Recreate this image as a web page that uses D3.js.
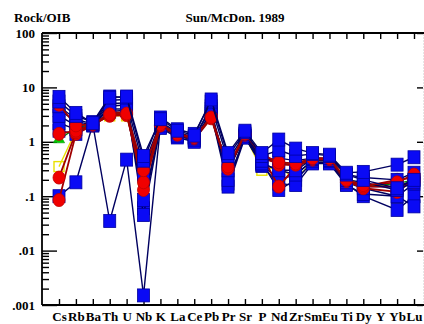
<!DOCTYPE html>
<html>
<head>
<meta charset="utf-8">
<script src="https://cdn.jsdelivr.net/npm/d3@7"></script>
<style>
  body { margin: 0; background: #fff; }
  svg { display: block; }
  text { font-family: "Liberation Serif", "Times New Roman", serif; font-weight: bold; }
</style>
</head>
<body>
<div id="chart"></div>
<script>
// elements along the x axis (Y has no analyses, lines run across it)
var elements = ["Cs","Rb","Ba","Th","U","Nb","K","La","Ce","Pb","Pr","Sr","P","Nd","Zr","Sm","Eu","Ti","Dy","Y","Yb","Lu"];

var yTickValues = [100, 10, 1, 0.1, 0.01, 0.001];
var yTickLabels = ["100", "10", "1", ".1", ".01", ".001"];

// rock / OIB ratios
var yellow1 = [0.35, 1.6, 2.1, 3.0, 3.0, 0.2, 2.0, 1.4, 1.2, 3.0, 0.3, 1.3, 0.3, 0.35, 0.2, 0.45, 0.45, 0.22, 0.16, null, 0.15, 0.17];
var green1  = [1.1, 1.8, 2.1, 3.3, 3.4, 0.2, 2.0, 1.4, 1.2, 2.9, 0.34, 1.35, 0.55, 0.4, 0.38, 0.48, 0.48, 0.2, 0.15, null, 0.17, 0.2];

var blue1 = [6.7, 3.4, 2.2, 6.5, 6.8, 0.55, 2.6, 1.6, 1.3, 6.0, 0.62, 1.6, 0.62, 1.1, 0.75, 0.62, 0.58, 0.27, 0.28, null, 0.38, 0.52];
var blue2 = [4.5, 2.6, 2.1, 5.0, 5.2, 0.35, 2.3, 1.5, 1.2, 4.5, 0.45, 1.4, 0.45, 0.5, 0.45, 0.5, 0.5, 0.25, 0.22, null, 0.2, 0.27];
var blue3 = [3.0, 2.0, 2.1, 4.0, 4.0, 0.25, 2.0, 1.3, 1.1, 3.5, 0.3, 1.3, 0.4, 0.3, 0.3, 0.48, 0.46, 0.2, 0.18, null, 0.13, 0.18];
var blue4 = [2.2, 1.7, 2.0, 3.6, 3.8, 0.085, 1.8, 1.2, 1.0, 3.2, 0.2, 1.2, 0.38, 0.2, 0.25, 0.45, 0.45, 0.18, 0.14, null, 0.1, 0.065];
var blue5 = [1.6, 1.4, 2.1, 5.8, 6.0, 0.06, 2.2, 1.4, 1.2, 4.0, 0.17, 1.3, 0.42, 0.13, 0.2, 0.42, 0.42, 0.17, 0.1, null, 0.056, 0.1];
var blue6 = [0.1, 0.18, 2.1, 0.035, 0.47, 0.0015, 2.0, 1.4, 1.2, 3.0, 0.3, 1.3, 0.4, 0.3, 0.25, 0.45, 0.45, 0.2, 0.15, null, 0.15, 0.2];
var blue7 = [5.5, 3.0, 2.3, 6.8, 6.5, 0.45, 2.8, 1.7, 1.4, 5.5, 0.55, 1.5, 0.55, 0.7, 0.55, 0.6, 0.55, 0.25, 0.2, null, 0.14, 0.2];
var blue8 = [3.8, 2.4, 2.0, 4.5, 4.8, 0.045, 1.9, 1.3, 1.05, 3.3, 0.15, 1.2, 0.36, 0.17, 0.16, 0.4, 0.4, 0.16, 0.11, null, 0.1, 0.17];

var red1 = [4.8, 2.0, 2.1, 3.2, 3.3, 0.3, 2.1, 1.4, 1.2, 2.8, 0.35, 1.4, 0.58, 0.42, 0.4, 0.5, 0.5, 0.2, 0.16, null, 0.18, 0.25];
var red2 = [1.4, 1.6, 2.1, 3.0, 3.1, 0.18, 2.0, 1.35, 1.15, 2.9, 0.32, 1.35, 0.55, 0.38, 0.38, 0.48, 0.48, 0.2, 0.15, null, 0.2, 0.22];
var red3 = [0.22, 1.5, 2.05, 3.4, 3.5, 0.13, 2.0, 1.4, 1.2, 3.0, 0.33, 1.35, 0.56, 0.15, 0.35, 0.47, 0.47, 0.19, 0.14, null, 0.12, 0.2];
var red4 = [0.085, 1.4, 2.0, 3.1, 3.2, 0.22, 1.9, 1.3, 1.1, 2.7, 0.3, 1.3, 0.5, 0.4, 0.36, 0.46, 0.46, 0.18, 0.15, null, 0.15, 0.18];

// drawing order (later ones lie on top)
var series = [
  {values: yellow1, kind: "yellow"},
  {values: green1, kind: "green"},
  {values: blue5, kind: "blue"},
  {values: blue6, kind: "blue"},
  {values: blue8, kind: "blue"},
  {values: red4, kind: "red"},
  {values: blue4, kind: "blue"},
  {values: red3, kind: "red"},
  {values: blue3, kind: "blue"},
  {values: red2, kind: "red"},
  {values: blue2, kind: "blue"},
  {values: red1, kind: "red"},
  {values: blue7, kind: "blue"},
  {values: blue1, kind: "blue"}
];

var width = 424, height = 324;
var plotLeft = 42, plotRight = 423, plotTop = 33, plotBottom = 305;

var svg = d3.select("#chart").append("svg")
    .attr("width", width)
    .attr("height", height);

var x = d3.scalePoint().domain(elements).range([59, 414]);
var y = d3.scaleLog().domain([0.001, 100]).range([plotBottom, plotTop]);

// titles
svg.append("text").attr("x", 14).attr("y", 22).style("font-size", "13px").text("Rock/OIB");
svg.append("text").attr("x", 235).attr("y", 22).attr("text-anchor", "middle").style("font-size", "13px").text("Sun/McDon. 1989");

// left axis: minor then major ticks
var minor = y.ticks().filter(function(d){ return yTickValues.indexOf(d) < 0; });
svg.append("g").attr("class", "axis")
    .attr("transform", "translate(" + plotLeft + ",0)")
    .call(d3.axisLeft(y).tickValues(minor).tickSize(-7).tickSizeOuter(0).tickFormat(""));
svg.append("g").attr("class", "axis")
    .attr("transform", "translate(" + plotLeft + ",0)")
    .call(d3.axisLeft(y).tickValues(yTickValues).tickSize(-15).tickSizeOuter(0).tickPadding(7)
      .tickFormat(function(d, i){ return yTickLabels[i]; }));

// right axis
var ra = svg.append("g").attr("class", "axis rightaxis")
    .attr("transform", "translate(" + plotRight + ",0)")
    .call(d3.axisRight(y).tickValues(yTickValues).tickSize(-6).tickSizeOuter(0).tickFormat(""));
ra.select(".domain").attr("stroke", "#ccc").attr("stroke-dasharray", "1,2");

// top and bottom axes
svg.append("g").attr("class", "axis")
    .attr("transform", "translate(0," + plotTop + ")")
    .call(d3.axisTop(x).tickSize(-6).tickSizeOuter(0).tickFormat(""));
svg.append("g").attr("class", "axis")
    .attr("transform", "translate(0," + plotBottom + ")")
    .call(d3.axisBottom(x).tickSize(-6).tickSizeOuter(0).tickPadding(7));

svg.selectAll(".axis .tick line").attr("stroke", "#000").attr("stroke-width", 1.4);
svg.selectAll(".axis text").style("font-size", "13px").style("font-family", "Liberation Serif, serif").style("font-weight", "bold").attr("fill", "#000");

// frame lines
svg.selectAll(".axis .domain").filter(function(){ return !this.parentNode.classList.contains("rightaxis"); }).remove();
svg.append("line").attr("x1", plotLeft).attr("x2", width).attr("y1", plotTop).attr("y2", plotTop).attr("stroke", "#000").attr("stroke-width", 1.8);
svg.append("line").attr("x1", plotLeft).attr("x2", width).attr("y1", plotBottom).attr("y2", plotBottom).attr("stroke", "#000").attr("stroke-width", 1.8);
svg.append("line").attr("x1", plotLeft).attr("x2", plotLeft).attr("y1", plotTop).attr("y2", plotBottom).attr("stroke", "#000").attr("stroke-width", 1.8);

var styles = {
  blue:   {line: "#000060", lw: 1.4},
  red:    {line: "#a00000", lw: 1.8},
  green:  {line: "#008800", lw: 1.3},
  yellow: {line: "#e8e000", lw: 1.3}
};

var line = d3.line()
    .x(function(d){ return x(d.el); })
    .y(function(d){ return y(d.v); });

series.forEach(function(s){
  var pts = [];
  s.values.forEach(function(v, i){
    if (v != null) pts.push({el: elements[i], v: v});
  });
  var g = svg.append("g");
  var st = styles[s.kind];
  g.append("path").datum(pts)
      .attr("d", line)
      .attr("fill", "none")
      .attr("stroke", st.line)
      .attr("stroke-width", st.lw);

  if (s.kind === "blue") {
    g.selectAll("rect").data(pts).enter().append("rect")
        .attr("x", function(d){ return x(d.el) - 6; })
        .attr("y", function(d){ return y(d.v) - 6.5; })
        .attr("width", 12).attr("height", 13)
        .attr("fill", "#0a0af5").attr("stroke", "#0000a0").attr("stroke-width", 0.8);
  } else if (s.kind === "red") {
    g.selectAll("ellipse").data(pts).enter().append("ellipse")
        .attr("cx", function(d){ return x(d.el); })
        .attr("cy", function(d){ return y(d.v); })
        .attr("rx", 6).attr("ry", 6.5)
        .attr("fill", "#f00000").attr("stroke", "#c00000").attr("stroke-width", 0.8);
  } else if (s.kind === "green") {
    g.selectAll("path.m").data(pts).enter().append("path").attr("class", "m")
        .attr("transform", function(d){ return "translate(" + x(d.el) + "," + y(d.v) + ")"; })
        .attr("d", d3.symbol().type(d3.symbolTriangle).size(55))
        .attr("fill", "#00cc00").attr("stroke", "#009900").attr("stroke-width", 0.6);
  } else {
    g.selectAll("rect").data(pts).enter().append("rect")
        .attr("x", function(d){ return x(d.el) - 5; })
        .attr("y", function(d){ return y(d.v) - 5; })
        .attr("width", 10).attr("height", 10)
        .attr("fill", "none").attr("stroke", "#e8e000").attr("stroke-width", 1.4);
  }
});
</script>
</body>
</html>
